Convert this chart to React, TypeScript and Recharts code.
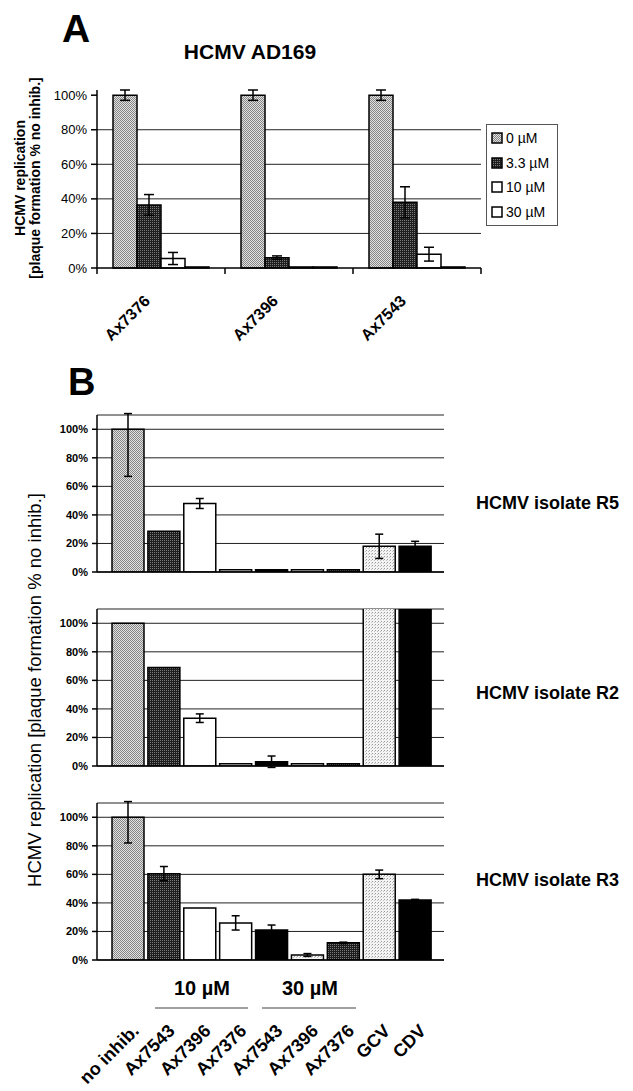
import React from "react";
import {
  BarChart,
  Bar,
  XAxis,
  YAxis,
  CartesianGrid,
  Cell,
  ErrorBar,
  Legend,
} from "recharts";

const FONT = '"Liberation Sans", Arial, Helvetica, sans-serif';

// ---- Panel A: HCMV AD169 ----
const A_COMPOUNDS = ["Ax7376", "Ax7396", "Ax7543"];
const A_DOSES = ["0 µM", "3.3 µM", "10 µM", "30 µM"];
const A_D0 = [100, 100, 100];
const A_D0_ERR = [3, 3, 3];
const A_D33 = [36.5, 6, 38];
const A_D33_ERR = [6, 1, 9];
const A_D10 = [5.5, 0.6, 8];
const A_D10_ERR = [3.5, null, 4];
const A_D30 = [0.6, 0.6, 0.6];
const A_TICKS = [0, 20, 40, 60, 80, 100];

// ---- Panel B: clinical isolates ----
const B_LABELS = ["no inhib.", "Ax7543", "Ax7396", "Ax7376", "Ax7543", "Ax7396", "Ax7376", "GCV", "CDV"];
const B_DOSE = ["", "10 µM", "10 µM", "10 µM", "30 µM", "30 µM", "30 µM", "", ""];
// error entries: single number = symmetric, [down, up] = asymmetric
const R5_VALUES = [100, 28.5, 48, 1.5, 1.5, 1.5, 1.5, 18, 18];
const R5_ERRORS = [[33, 11], null, 3.5, null, null, null, null, 8.5, 3.5];
const R2_VALUES = [100, 69, 33.5, 1.5, 3, 1.5, 1.5, 113, 113];
const R2_ERRORS = [null, null, 3, null, 4, null, null, null, null];
const R3_VALUES = [100, 60.5, 36.5, 26, 21, 3.5, 12, 60, 42];
const R3_ERRORS = [[18, 11], 5, null, 5, 3.5, 1, 0.5, 3, 0.5];
const B_TICKS = [0, 20, 40, 60, 80, 100];

const A_FILLS = ["url(#pGrey)", "url(#pDark)", "#fff", "#fff"];
const B_FILLS = [
  "url(#pGrey)",
  "url(#pDark)",
  "#fff",
  "#fff",
  "#000",
  "url(#pLight)",
  "url(#pDark)",
  "url(#pLight)",
  "#000",
];

const aData = A_COMPOUNDS.map((c, i) => ({
  compound: c,
  d0: A_D0[i],
  d0e: A_D0_ERR[i],
  d33: A_D33[i],
  d33e: A_D33_ERR[i],
  d10: A_D10[i],
  d10e: A_D10_ERR[i],
  d30: A_D30[i],
}));

type Err = number | number[] | null;

const bRows = (values: number[], errors: Err[]) =>
  B_LABELS.map((label, i) => ({
    key: `${B_DOSE[i]} ${label}`.trim(),
    label,
    value: values[i],
    err: errors[i],
  }));

const PatternDefs = () => (
  <svg width={0} height={0} style={{ position: "absolute" }}>
    <defs>
      <pattern id="pGrey" width={2} height={2} patternUnits="userSpaceOnUse">
        <rect width={2} height={2} fill="#e2e2e2" />
        <rect width={1} height={1} fill="#858585" />
        <rect x={1} y={1} width={1} height={1} fill="#858585" />
      </pattern>
      <pattern id="pDark" width={2} height={2} patternUnits="userSpaceOnUse">
        <rect width={2} height={2} fill="#1e1e1e" />
        <rect width={1} height={1} fill="#7a7a7a" />
      </pattern>
      <pattern id="pLight" width={3} height={3} patternUnits="userSpaceOnUse">
        <rect width={3} height={3} fill="#f4f4f4" />
        <rect width={1} height={1} fill="#9a9a9a" />
        <rect x={2} y={1} width={1} height={1} fill="#c0c0c0" />
      </pattern>
    </defs>
  </svg>
);

const ATick = (props: any) => {
  const { x, y, payload, index } = props;
  const half = payload && typeof payload.offset === "number" ? payload.offset : 0;
  const tx = x - 10;
  const ty = y + 34;
  return (
    <g>
      {half > 0 && <line x1={x - half} y1={y} x2={x - half} y2={y + 6} stroke="#000" strokeWidth={1.5} />}
      {half > 0 && index === A_COMPOUNDS.length - 1 && (
        <line x1={x + half} y1={y} x2={x + half} y2={y + 6} stroke="#000" strokeWidth={1.5} />
      )}
      <text
        x={tx}
        y={ty}
        transform={`rotate(-45 ${tx} ${ty})`}
        textAnchor="end"
        fontFamily={FONT}
        fontWeight="bold"
        fontSize={16}
        fill="#000"
      >
        {payload.value}
      </text>
    </g>
  );
};

const BTick = (props: any) => {
  const { x, y, index } = props;
  const tx = x + 12;
  const ty = y + 72;
  return (
    <text
      x={tx}
      y={ty}
      transform={`rotate(-45 ${tx} ${ty})`}
      textAnchor="end"
      fontFamily={FONT}
      fontWeight="bold"
      fontSize={18}
      fill="#000"
    >
      {B_LABELS[index]}
    </text>
  );
};

const ALegend = (props: any) => {
  const items = props.payload || [];
  return (
    <div
      style={{
        border: "1px solid #555",
        background: "#fff",
        padding: "1px 4px",
        fontFamily: FONT,
        fontSize: 14,
        width: 62,
      }}
    >
      {items.map((it: any) => (
        <div key={it.value} style={{ display: "flex", alignItems: "center", height: 24.5 }}>
          <svg width={12} height={12} style={{ marginRight: 3 }}>
            <rect x={1} y={1} width={10} height={10} fill={it.color} stroke="#000" strokeWidth={1.5} />
          </svg>
          <span style={{ whiteSpace: "nowrap" }}>{it.value}</span>
        </div>
      ))}
    </div>
  );
};

const dotted = { stroke: "#777", strokeDasharray: "1 2", strokeWidth: 1 };

const PanelA = () => (
  <BarChart
    width={633}
    height={350}
    data={aData}
    margin={{ top: 90, right: 152, bottom: 0, left: 0 }}
    barCategoryGap={16}
    barGap={0}
  >
    <CartesianGrid vertical={false} stroke="#222" horizontalValues={[20, 40, 60, 80]} />
    <XAxis
      dataKey="compound"
      height={82}
      interval={0}
      tickLine={false}
      tickSize={0}
      tickMargin={0}
      axisLine={{ stroke: "#000", strokeWidth: 1.5 }}
      tick={<ATick />}
    />
    <XAxis xAxisId="top" dataKey="compound" orientation="top" height={0} tick={false} tickLine={false} axisLine={dotted} />
    <YAxis
      width={97}
      domain={[0, 100]}
      ticks={A_TICKS}
      interval={0}
      tickFormatter={(v: number) => `${v}%`}
      tickSize={6}
      tickMargin={4}
      axisLine={{ stroke: "#000", strokeWidth: 1.5 }}
      tickLine={{ stroke: "#000", strokeWidth: 1.5 }}
      tick={{ fontSize: 13, fill: "#000", fontFamily: FONT }}
    />
    <YAxis yAxisId="right" orientation="right" width={0} domain={[0, 100]} tick={false} tickLine={false} axisLine={dotted} />
    <Bar dataKey="d0" name={A_DOSES[0]} fill={A_FILLS[0]} stroke="#000" strokeWidth={1.5} isAnimationActive={false}>
      <ErrorBar dataKey="d0e" width={5} stroke="#000" strokeWidth={1.5} />
    </Bar>
    <Bar dataKey="d33" name={A_DOSES[1]} fill={A_FILLS[1]} stroke="#000" strokeWidth={1.5} isAnimationActive={false}>
      <ErrorBar dataKey="d33e" width={5} stroke="#000" strokeWidth={1.5} />
    </Bar>
    <Bar dataKey="d10" name={A_DOSES[2]} fill={A_FILLS[2]} stroke="#000" strokeWidth={1.5} isAnimationActive={false}>
      <ErrorBar dataKey="d10e" width={5} stroke="#000" strokeWidth={1.5} />
    </Bar>
    <Bar dataKey="d30" name={A_DOSES[3]} fill={A_FILLS[3]} stroke="#000" strokeWidth={1.5} isAnimationActive={false} />
    <Legend
      layout="vertical"
      align="center"
      verticalAlign="middle"
      itemSorter={(item: any) => A_DOSES.indexOf(item.value)}
      wrapperStyle={{ left: 486, top: 124, width: 72 }}
      content={<ALegend />}
    />
  </BarChart>
);

const IsolateChart = ({
  values,
  errors,
  showLabels,
}: {
  values: number[];
  errors: Err[];
  showLabels: boolean;
}) => {
  const rows = bRows(values, errors);
  const axisH = showLabels ? 131 : 1;
  return (
    <BarChart
      width={460}
      height={15 + 157 + axisH + (showLabels ? 0 : 8)}
      data={rows}
      margin={{ top: 15, right: 16, bottom: showLabels ? 0 : 8, left: 0 }}
      barSize={32}
    >
      <CartesianGrid vertical={false} stroke="#222" />
      <XAxis
        dataKey="key"
        height={axisH}
        interval={0}
        padding={{ left: 13, right: 11 }}
        tickLine={false}
        tickSize={0}
        tickMargin={0}
        axisLine={{ stroke: "#000", strokeWidth: 1.5 }}
        tick={showLabels ? <BTick /> : false}
      />
      <XAxis xAxisId="top" dataKey="key" orientation="top" height={0} tick={false} tickLine={false} axisLine={dotted} />
      <YAxis
        width={97}
        domain={[0, 110]}
        allowDataOverflow
        ticks={B_TICKS}
        interval={0}
        tickFormatter={(v: number) => `${v}%`}
        tickSize={5}
        tickMargin={4}
        axisLine={{ stroke: "#000", strokeWidth: 1.5 }}
        tickLine={{ stroke: "#000", strokeWidth: 1.5 }}
        tick={{ fontSize: 11, fontWeight: "bold", fill: "#000", fontFamily: FONT }}
      />
      <YAxis yAxisId="right" orientation="right" width={0} domain={[0, 110]} tick={false} tickLine={false} axisLine={dotted} />
      <Bar dataKey="value" stroke="#000" strokeWidth={1.5} isAnimationActive={false}>
        {rows.map((r, i) => (
          <Cell key={r.key} fill={B_FILLS[i]} />
        ))}
        <ErrorBar dataKey="err" width={4} stroke="#000" strokeWidth={1.5} />
      </Bar>
    </BarChart>
  );
};

export default function App() {
  return (
    <div
      style={{
        position: "absolute",
        left: 0,
        top: 0,
        width: 633,
        height: 1091,
        background: "#fff",
        overflow: "hidden",
        fontFamily: FONT,
      }}
    >
      <PatternDefs />
      <div style={{ position: "absolute", left: 0, top: 0 }}>
        <PanelA />
      </div>
      <div style={{ position: "absolute", left: 0, top: 400 }}>
        <IsolateChart values={R5_VALUES} errors={R5_ERRORS} showLabels={false} />
      </div>
      <div style={{ position: "absolute", left: 0, top: 594 }}>
        <IsolateChart values={R2_VALUES} errors={R2_ERRORS} showLabels={false} />
      </div>
      <div style={{ position: "absolute", left: 0, top: 788 }}>
        <IsolateChart values={R3_VALUES} errors={R3_ERRORS} showLabels={true} />
      </div>
      <svg
        width={633}
        height={1091}
        style={{ position: "absolute", left: 0, top: 0, pointerEvents: "none" }}
        fontFamily={FONT}
      >
        <text x={62} y={42} fontSize={39} fontWeight="bold" fill="#000">A</text>
        <text x={68} y={395} fontSize={38} fontWeight="bold" fill="#000">B</text>
        <text x={250} y={59} fontSize={21} fontWeight="bold" textAnchor="middle" fill="#000">
          HCMV AD169
        </text>
        <text transform="translate(25,178) rotate(-90)" fontSize={14} fontWeight="bold" textAnchor="middle" fill="#000">
          HCMV replication
        </text>
        <text transform="translate(40,178) rotate(-90)" fontSize={14} fontWeight="bold" textAnchor="middle" fill="#000">
          [plaque formation % no inhib.]
        </text>
        <text transform="translate(41,690) rotate(-90)" fontSize={18.5} textAnchor="middle" fill="#000">
          HCMV replication [plaque formation % no inhib.]
        </text>
        <text x={476} y={509} fontSize={18} fontWeight="bold" fill="#000">HCMV isolate R5</text>
        <text x={476} y={699} fontSize={18} fontWeight="bold" fill="#000">HCMV isolate R2</text>
        <text x={476} y={886} fontSize={18} fontWeight="bold" fill="#000">HCMV isolate R3</text>
        <text x={202} y={995} fontSize={20} fontWeight="bold" textAnchor="middle" fill="#000">10 µM</text>
        <text x={310} y={995} fontSize={20} fontWeight="bold" textAnchor="middle" fill="#000">30 µM</text>
        <line x1={155} y1={1008} x2={248} y2={1008} stroke="#444" strokeWidth={1.2} />
        <line x1={262} y1={1008} x2={356} y2={1008} stroke="#444" strokeWidth={1.2} />
      </svg>
    </div>
  );
}
